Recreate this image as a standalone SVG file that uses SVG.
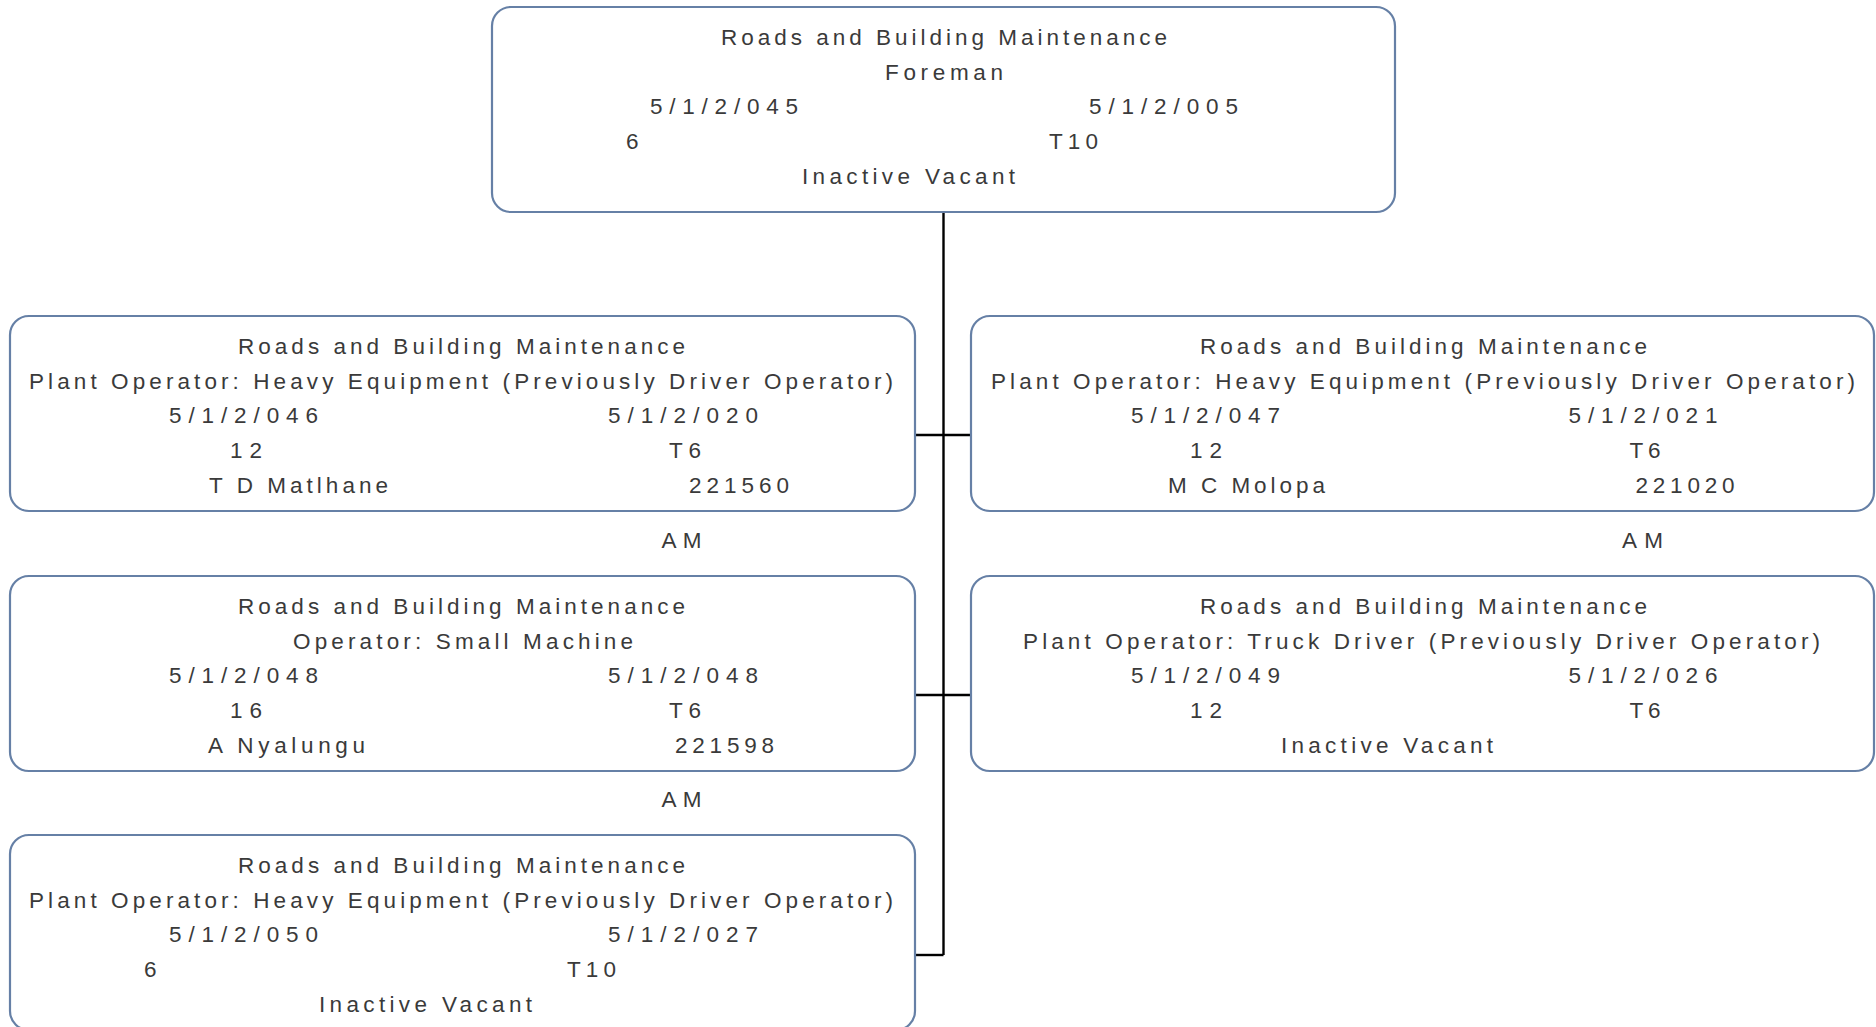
<svg xmlns="http://www.w3.org/2000/svg" width="1876" height="1027" viewBox="0 0 1876 1027">
<style>
.box{fill:#ffffff;stroke:#6680a6;stroke-width:2.2}
.t{font-family:"Liberation Sans",Arial,sans-serif;font-size:22.5px;fill:#3a3a3a}
.c{fill:none;stroke:#000000;stroke-width:2.4}
</style>
<rect width="1876" height="1027" fill="#ffffff"/>
<g id="connectors">
<path class="c" d="M943.5 212 V955"/>
<path class="c" d="M915 435 H971"/>
<path class="c" d="M915 695 H971"/>
<path class="c" d="M915 955 H943.5"/>
</g>
<g id="node-foreman">
<rect class="box" x="492" y="7" width="903" height="205" rx="19"/>
<text class="t" x="721" y="44.5" textLength="446" lengthAdjust="spacing">Roads and Building Maintenance</text>
<text class="t" x="885" y="79.5" textLength="118" lengthAdjust="spacing">Foreman</text>
<text class="t" x="650" y="114" textLength="148" lengthAdjust="spacing">5/1/2/045</text>
<text class="t" x="1089" y="114" textLength="149" lengthAdjust="spacing">5/1/2/005</text>
<text class="t" x="626" y="148.5">6</text>
<text class="t" x="1049" y="148.5" textLength="49" lengthAdjust="spacing">T10</text>
<text class="t" x="802" y="183.5" textLength="213" lengthAdjust="spacing">Inactive Vacant</text>
</g>
<g id="node-046">
<rect class="box" x="10" y="316" width="905" height="195" rx="19"/>
<text class="t" x="238" y="353.5" textLength="447" lengthAdjust="spacing">Roads and Building Maintenance</text>
<text class="t" x="29" y="388.5" textLength="864" lengthAdjust="spacing">Plant Operator: Heavy Equipment (Previously Driver Operator)</text>
<text class="t" x="169" y="423" textLength="149" lengthAdjust="spacing">5/1/2/046</text>
<text class="t" x="608" y="423" textLength="150" lengthAdjust="spacing">5/1/2/020</text>
<text class="t" x="230" y="457.5" textLength="32" lengthAdjust="spacing">12</text>
<text class="t" x="669" y="457.5" textLength="32" lengthAdjust="spacing">T6</text>
<text class="t" x="209" y="492.5" textLength="179" lengthAdjust="spacing">T D Matlhane</text>
<text class="t" x="689" y="492.5" textLength="100" lengthAdjust="spacing">221560</text>
<text class="t" x="661.5" y="547.5" textLength="40" lengthAdjust="spacing">AM</text>
</g>
<g id="node-047">
<rect class="box" x="971" y="316" width="903" height="195" rx="19"/>
<text class="t" x="1200" y="353.5" textLength="447" lengthAdjust="spacing">Roads and Building Maintenance</text>
<text class="t" x="991" y="388.5" textLength="864" lengthAdjust="spacing">Plant Operator: Heavy Equipment (Previously Driver Operator)</text>
<text class="t" x="1131" y="423" textLength="149" lengthAdjust="spacing">5/1/2/047</text>
<text class="t" x="1568.5" y="423" textLength="149" lengthAdjust="spacing">5/1/2/021</text>
<text class="t" x="1190" y="457.5" textLength="32" lengthAdjust="spacing">12</text>
<text class="t" x="1629.5" y="457.5" textLength="31" lengthAdjust="spacing">T6</text>
<text class="t" x="1168" y="492.5" textLength="157" lengthAdjust="spacing">M C Molopa</text>
<text class="t" x="1635.5" y="492.5" textLength="99" lengthAdjust="spacing">221020</text>
<text class="t" x="1622" y="547.5" textLength="41" lengthAdjust="spacing">AM</text>
</g>
<g id="node-048">
<rect class="box" x="10" y="576" width="905" height="195" rx="19"/>
<text class="t" x="238" y="613.5" textLength="447" lengthAdjust="spacing">Roads and Building Maintenance</text>
<text class="t" x="293" y="648.5" textLength="340" lengthAdjust="spacing">Operator: Small Machine</text>
<text class="t" x="169" y="683" textLength="149" lengthAdjust="spacing">5/1/2/048</text>
<text class="t" x="608" y="683" textLength="150" lengthAdjust="spacing">5/1/2/048</text>
<text class="t" x="230" y="717.5" textLength="32" lengthAdjust="spacing">16</text>
<text class="t" x="669" y="717.5" textLength="32" lengthAdjust="spacing">T6</text>
<text class="t" x="208" y="752.5" textLength="157" lengthAdjust="spacing">A Nyalungu</text>
<text class="t" x="675" y="752.5" textLength="99" lengthAdjust="spacing">221598</text>
<text class="t" x="661.5" y="806.5" textLength="40" lengthAdjust="spacing">AM</text>
</g>
<g id="node-049">
<rect class="box" x="971" y="576" width="903" height="195" rx="19"/>
<text class="t" x="1200" y="613.5" textLength="447" lengthAdjust="spacing">Roads and Building Maintenance</text>
<text class="t" x="1023" y="648.5" textLength="797" lengthAdjust="spacing">Plant Operator: Truck Driver (Previously Driver Operator)</text>
<text class="t" x="1131" y="683" textLength="149" lengthAdjust="spacing">5/1/2/049</text>
<text class="t" x="1568.5" y="683" textLength="149" lengthAdjust="spacing">5/1/2/026</text>
<text class="t" x="1190" y="717.5" textLength="32" lengthAdjust="spacing">12</text>
<text class="t" x="1629.5" y="717.5" textLength="31" lengthAdjust="spacing">T6</text>
<text class="t" x="1281" y="752.5" textLength="212" lengthAdjust="spacing">Inactive Vacant</text>
</g>
<g id="node-050">
<rect class="box" x="10" y="835" width="905" height="195" rx="19"/>
<text class="t" x="238" y="872.5" textLength="447" lengthAdjust="spacing">Roads and Building Maintenance</text>
<text class="t" x="29" y="907.5" textLength="864" lengthAdjust="spacing">Plant Operator: Heavy Equipment (Previously Driver Operator)</text>
<text class="t" x="169" y="942" textLength="149" lengthAdjust="spacing">5/1/2/050</text>
<text class="t" x="608" y="942" textLength="150" lengthAdjust="spacing">5/1/2/027</text>
<text class="t" x="144" y="976.5">6</text>
<text class="t" x="567" y="976.5" textLength="49" lengthAdjust="spacing">T10</text>
<text class="t" x="319" y="1011.5" textLength="213" lengthAdjust="spacing">Inactive Vacant</text>
</g>
</svg>
